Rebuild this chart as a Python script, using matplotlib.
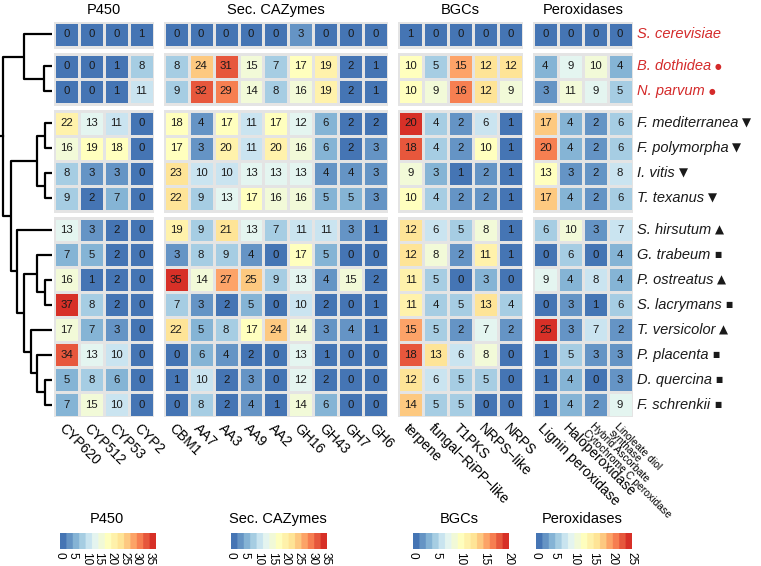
import matplotlib
matplotlib.use('Agg')
import matplotlib.pyplot as plt
import numpy as np
from matplotlib.colors import LinearSegmentedColormap, ListedColormap, Normalize

plt.rcParams['font.family'] = ['Liberation Sans', 'DejaVu Sans']

# species (rows) and their marks
species = ["S. cerevisiae", "B. dothidea", "N. parvum", "F. mediterranea", "F. polymorpha",
           "I. vitis", "T. texanus", "S. hirsutum", "G. trabeum", "P. ostreatus",
           "S. lacrymans", "T. versicolor", "P. placenta", "D. quercina", "F. schrenkii"]
marks = ["", "\u25cf", "\u25cf", "\u25bc", "\u25bc", "\u25bc", "\u25bc", "\u25b2", "\u25a0",
         "\u25b2", "\u25a0", "\u25b2", "\u25a0", "\u25a0", "\u25a0"]
red_rows = [0, 1, 2]
row_groups = [0, 1, 1, 2, 2, 2, 2, 3, 3, 3, 3, 3, 3, 3, 3]

p450_cols = ["CYP620", "CYP512", "CYP53", "CYP2"]
p450 = [[0, 0, 0, 1], [0, 0, 1, 8], [0, 0, 1, 11], [22, 13, 11, 0], [16, 19, 18, 0],
        [8, 3, 3, 0], [9, 2, 7, 0], [13, 3, 2, 0], [7, 5, 2, 0], [16, 1, 2, 0],
        [37, 8, 2, 0], [17, 7, 3, 0], [34, 13, 10, 0], [5, 8, 6, 0], [7, 15, 10, 0]]

caz_cols = ["CBM1", "AA7", "AA3", "AA9", "AA2", "GH16", "GH43", "GH7", "GH6"]
caz = [[0, 0, 0, 0, 0, 3, 0, 0, 0], [8, 24, 31, 15, 7, 17, 19, 2, 1],
       [9, 32, 29, 14, 8, 16, 19, 2, 1], [18, 4, 17, 11, 17, 12, 6, 2, 2],
       [17, 3, 20, 11, 20, 16, 6, 2, 3], [23, 10, 10, 13, 13, 13, 4, 4, 3],
       [22, 9, 13, 17, 16, 16, 5, 5, 3], [19, 9, 21, 13, 7, 11, 11, 3, 1],
       [3, 8, 9, 4, 0, 17, 5, 0, 0], [35, 14, 27, 25, 9, 13, 4, 15, 2],
       [7, 3, 2, 5, 0, 10, 2, 0, 1], [22, 5, 8, 17, 24, 14, 3, 4, 1],
       [0, 6, 4, 2, 0, 13, 1, 0, 0], [1, 10, 2, 3, 0, 12, 2, 0, 0],
       [0, 8, 2, 4, 1, 14, 6, 0, 0]]

bgc_cols = ["terpene", "fungal\u2212RiPP\u2212like", "T1PKS", "NRPS\u2212like", "NRPS"]
bgc = [[1, 0, 0, 0, 0], [10, 5, 15, 12, 12], [10, 9, 16, 12, 9], [20, 4, 2, 6, 1],
       [18, 4, 2, 10, 1], [9, 3, 1, 2, 1], [10, 4, 2, 2, 1], [12, 6, 5, 8, 1],
       [12, 8, 2, 11, 1], [11, 5, 0, 3, 0], [11, 4, 5, 13, 4], [15, 5, 2, 7, 2],
       [18, 13, 6, 8, 0], [12, 6, 5, 5, 0], [14, 5, 5, 0, 0]]

perox_cols = ["Lignin peroxidase", "Haloperoxidase",
              "Hybrid Ascorbate\nCytochrome C peroxidase", "Linoleate diol\nsynthase"]
perox_sizes = [10, 10, 7.5, 7.5]
perox = [[0, 0, 0, 0], [4, 9, 10, 4], [3, 11, 9, 5], [17, 4, 2, 6], [20, 4, 2, 6],
         [13, 3, 2, 8], [17, 4, 2, 6], [6, 10, 3, 7], [0, 6, 0, 4], [9, 4, 8, 4],
         [0, 3, 1, 6], [25, 3, 7, 2], [1, 5, 3, 3], [1, 4, 0, 3], [1, 4, 2, 9]]

titles = ["P450", "Sec. CAZymes", "BGCs", "Peroxidases"]
cbar_ticks = [[0, 5, 10, 15, 20, 25, 30, 35], [0, 5, 10, 15, 20, 25, 30, 35],
              [0, 5, 10, 15, 20], [0, 5, 10, 15, 20, 25]]

# dendrogram merges: (child a, child b, height); leaves 0..14, new nodes from 15
merges = [(1, 2, 8), (0, 15, 28), (3, 4, 7), (5, 6, 7), (17, 18, 15), (9, 10, 7),
          (8, 20, 15), (13, 14, 7), (12, 22, 15), (11, 23, 21), (21, 24, 28),
          (7, 25, 35), (19, 26, 41), (16, 27, 49)]

W, H = 761, 566
fig = plt.figure(figsize=(W / 100, H / 100), dpi=100)

def px_axes(x0, y0, x1, y1):
    return fig.add_axes([x0 / W, 1 - y1 / H, (x1 - x0) / W, (y1 - y0) / H])

cmap = ListedColormap(LinearSegmentedColormap.from_list(
    "rdylbu", ["#4575B4", "#91BFDB", "#E0F3F8", "#FFFFBF", "#FEE090", "#FC8D59", "#D73027"])(np.linspace(0, 1, 15)))

gap = 0.28
n_rows = len(species)
ytot = n_rows + gap * max(row_groups)
row_top = np.array([i + gap * row_groups[i] for i in range(n_rows)])

top, bottom = 22, 417
cell = (bottom - top) / ytot
panels = [(p450_cols, p450), (caz_cols, caz), (bgc_cols, bgc), (perox_cols, perox)]
x = 54
axes = []
for k, (cols, data) in enumerate(panels):
    data = np.array(data, dtype=float)
    ncol = len(cols)
    ax = px_axes(x, top, x + ncol * cell, bottom)
    x = x + ncol * cell + 10
    norm = Normalize(0, data.max())
    for g in sorted(set(row_groups)):
        idx = [i for i in range(n_rows) if row_groups[i] == g]
        ye = np.append(row_top[idx], row_top[idx[-1]] + 1)
        ax.pcolormesh(np.arange(ncol + 1), ye, data[idx], cmap=cmap, norm=norm,
                      edgecolors='#e4e4e4', linewidth=0.9)
    for i in range(n_rows):
        for j in range(ncol):
            ax.text(j + 0.5, row_top[i] + 0.5, "%d" % data[i, j], ha='center', va='center',
                    fontsize=8.2, color='#1a1a1a')
    ax.set_xlim(0, ncol)
    ax.set_ylim(ytot, 0)
    ax.axis('off')
    ax.annotate(titles[k], xy=(0.5, 1), xycoords='axes fraction', xytext=(0, 8.6),
                textcoords='offset points', ha='center', va='center', fontsize=10.5)
    for j, c in enumerate(cols):
        fs = perox_sizes[j] if k == 3 else 10
        ax.annotate(c, xy=(j + 0.5, ytot), xycoords='data', xytext=(0, -3),
                    textcoords='offset points', rotation=-45, rotation_mode='anchor',
                    ha='left', va='top', fontsize=fs, linespacing=0.95)
    axes.append((ax, norm, data.max()))

# species labels
ax_last = axes[-1][0]
for i, name in enumerate(species):
    col = '#d42a2a' if i in red_rows else '#1a1a1a'
    t = ax_last.text(len(perox_cols) + 0.16, row_top[i] + 0.5, name, fontsize=10.5,
                     style='italic', color=col, ha='left', va='center')
    if marks[i]:
        fs = 5.5 if marks[i] in ("\u25cf", "\u25a0") else 8.5
        ax_last.annotate(marks[i], xy=(1, 0.5), xycoords=t, xytext=(3, 0),
                         textcoords='offset points', ha='left', va='center',
                         fontsize=fs, color=col, family=['DejaVu Sans'])

# dendrogram
axd = px_axes(0, top, 52, bottom)
pos = {i: (row_top[i] + 0.5, 0.0) for i in range(n_rows)}
node = n_rows
for a, b, h in merges:
    ya, ha = pos[a]
    yb, hb = pos[b]
    axd.plot([ha, h, h, hb], [ya, ya, yb, yb], color='black', lw=1.6, solid_capstyle='butt',
             clip_on=False)
    pos[node] = ((ya + yb) / 2, h)
    node += 1
yr, hr = pos[node - 1]
axd.plot([hr, hr + 3], [yr, yr], color='black', lw=1.6, clip_on=False)
axd.set_xlim(52, 0)
axd.set_ylim(ytot, 0)
axd.axis('off')

# colour keys
cb_x = [58, 229, 411, 534]
for k, (ax, norm, vmax) in enumerate(axes):
    cax = px_axes(cb_x[k], 533, cb_x[k] + 97, 549)
    grad = np.linspace(0, vmax, 300)[None, :]
    cax.imshow(grad, cmap=cmap, norm=norm, aspect='auto', extent=[0, vmax, 0, 1])
    cax.set_xlim(-0.02 * vmax, vmax * 1.0)
    cax.set_yticks([])
    cax.set_xticks(cbar_ticks[k])
    cax.set_xticklabels([str(v) for v in cbar_ticks[k]], rotation=-90, fontsize=8.5)
    cax.tick_params(axis='x', length=0, pad=2)
    for s in cax.spines.values():
        s.set_visible(False)
    cax.set_title(titles[k], fontsize=10.5, pad=7)

fig.savefig("out.png", dpi=100)
